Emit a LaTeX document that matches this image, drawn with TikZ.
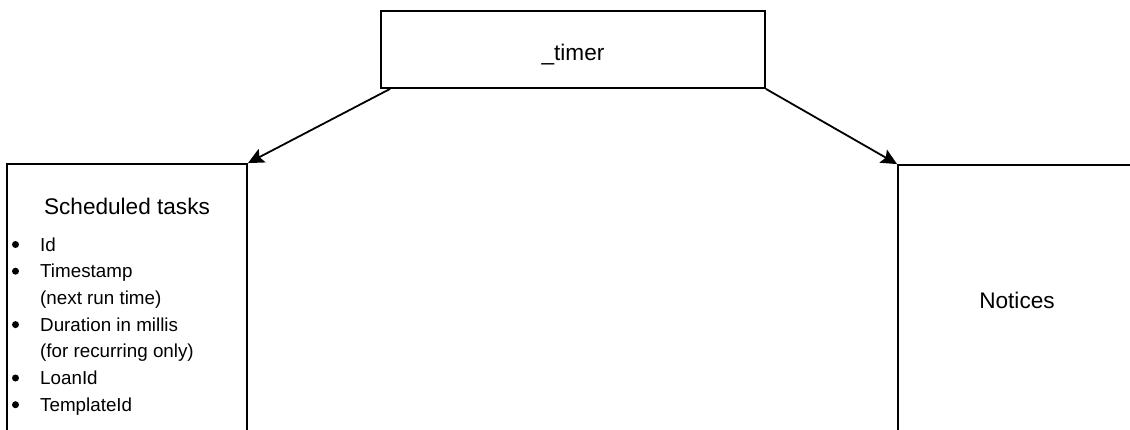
\documentclass[tikz,border=0pt]{standalone}
\usepackage{fontspec}
\setmainfont{Liberation Sans}
\usetikzlibrary{arrows.meta}
\begin{document}
\begin{tikzpicture}[x=1pt,y=-1pt,
	link/.style={-{Stealth[length=16pt,width=15pt,inset=3pt]},line width=1.8pt},
	box/.style={draw,line width=1.8pt,inner sep=0pt},
	big/.style={font=\fontsize{22.6}{27}\selectfont},
	item/.style={anchor=base west,inner sep=0pt,font=\fontsize{18.8}{22}\selectfont},
	dot/.style={circle,fill,inner sep=0pt,minimum size=7pt}]
		\useasboundingbox (0,0) rectangle (1130,429);
		\clip (0,0) rectangle (1130,429);
		
		% draw timer box
		\node[box,big,minimum width=384pt,minimum height=77pt,text height=21pt,text depth=0pt] (timer) at (573,49.5) {\_timer};
		
		% draw the two boxes below (cut off by the page)
		\node[box,minimum width=240pt,minimum height=270pt] (tasks) at (127,299) {};
		\node[box,big,minimum width=238pt,minimum height=270pt,text height=16.2pt,text depth=0pt] (notices) at (1017,300) {Notices};
		
		% draw title and list of scheduled tasks
		\node[big,anchor=base,inner sep=0pt] (title) at (127,214) {Scheduled tasks};
		\foreach \y/\txt [count=\i] in {251/Id,277.7/Timestamp,331.1/Duration in millis,384.5/LoanId,411.2/TemplateId}
		{
			\node[item] (item-\i) at (40,\y) {\txt};
			\node[dot] (dot-\i) at (15.5,\y-6.5) {};
		}
		\node[item] (note-1) at (40,304.4) {(next run time)};
		\node[item] (note-2) at (40,357.8) {(for recurring only)};
		
		% draw arrows from timer to both boxes
		\draw[link] ([xshift=10pt]timer.south west) to (tasks.north east);
		\draw[link] (timer.south east) to (notices.north west);
\end{tikzpicture}
\end{document}
